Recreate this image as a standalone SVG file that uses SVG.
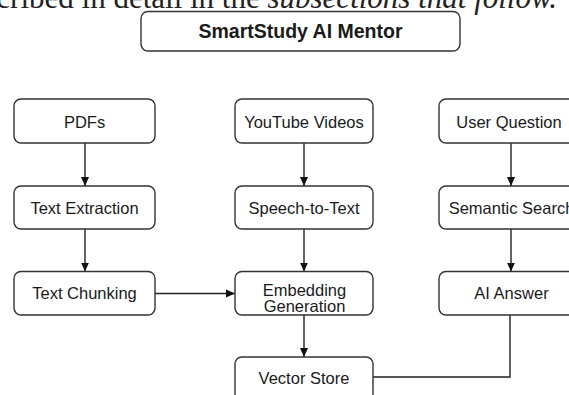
<svg xmlns="http://www.w3.org/2000/svg" width="569" height="395" viewBox="0 0 569 395">
<defs>
<style>
.box{fill:#fff;stroke:#333;stroke-width:1.4}
.lbl{font-family:"Liberation Sans",Arial,sans-serif;font-size:16.5px;fill:#1a1a1a;text-anchor:middle}
.title{font-family:"Liberation Sans",Arial,sans-serif;font-size:19.5px;font-weight:bold;fill:#1a1a1a;text-anchor:middle}
.edge{fill:none;stroke:#222;stroke-width:1.4}
.page{font-family:"Liberation Serif","Times New Roman",serif;font-size:31px;fill:#222}
</style>
<marker id="arr" viewBox="0 0 10 10" refX="10" refY="5" markerWidth="9" markerHeight="9" markerUnits="userSpaceOnUse" orient="auto">
<path d="M0,0.5 L10,5 L0,9.5 z" fill="#111"/>
</marker>
</defs>
<rect width="569" height="395" fill="#fff"/>
<text class="page" x="-45" y="7.5">described in detail in the <tspan font-style="italic">subsections that follow.</tspan></text>
<g id="title"><rect class="box" x="141" y="11.5" width="319" height="39.5" rx="7"/><text class="title" x="300.5" y="38">SmartStudy AI Mentor</text></g>
<g id="connectors">
<line class="edge" x1="85" y1="143" x2="85" y2="186" marker-end="url(#arr)"/>
<line class="edge" x1="85" y1="229" x2="85" y2="271.5" marker-end="url(#arr)"/>
<line class="edge" x1="304" y1="143" x2="304" y2="186" marker-end="url(#arr)"/>
<line class="edge" x1="304" y1="229" x2="304" y2="271.5" marker-end="url(#arr)"/>
<line class="edge" x1="511" y1="143" x2="511" y2="186" marker-end="url(#arr)"/>
<line class="edge" x1="511" y1="229" x2="511" y2="271.5" marker-end="url(#arr)"/>
<line class="edge" x1="155" y1="293.5" x2="235" y2="293.5" marker-end="url(#arr)"/>
<line class="edge" x1="304" y1="315" x2="304" y2="357" marker-end="url(#arr)"/>
<polyline class="edge" points="373,377 510,377 510,315"/>
</g>
<g id="pdfs"><rect class="box" x="14" y="99" width="141" height="44" rx="7"/><text class="lbl" x="84.5" y="127.5">PDFs</text></g>
<g id="text-extraction"><rect class="box" x="14" y="186" width="141" height="43" rx="7"/><text class="lbl" x="84.5" y="213.5">Text Extraction</text></g>
<g id="text-chunking"><rect class="box" x="14" y="271.5" width="141" height="43.5" rx="7"/><text class="lbl" x="84.5" y="299">Text Chunking</text></g>
<g id="youtube"><rect class="box" x="235" y="99" width="138" height="44" rx="7"/><text class="lbl" x="304" y="127.5">YouTube Videos</text></g>
<g id="speech-to-text"><rect class="box" x="235" y="186" width="138" height="43" rx="7"/><text class="lbl" x="304" y="213.5">Speech-to-Text</text></g>
<g id="embedding"><rect class="box" x="235" y="271.5" width="138" height="43.5" rx="7"/><text class="lbl" x="304.5" y="295.5">Embedding</text><text class="lbl" x="304.5" y="312">Generation</text></g>
<g id="vector-store"><rect class="box" x="235" y="357" width="138" height="46" rx="7"/><text class="lbl" x="304" y="384">Vector Store</text></g>
<g id="user-question"><rect class="box" x="439" y="99" width="145" height="44" rx="7"/><text class="lbl" x="509" y="127.5">User Question</text></g>
<g id="semantic-search"><rect class="box" x="439" y="186" width="145" height="43" rx="7"/><text class="lbl" x="511.5" y="213.5">Semantic Search</text></g>
<g id="ai-answer"><rect class="box" x="439" y="271.5" width="145" height="43.5" rx="7"/><text class="lbl" x="511.5" y="299">AI Answer</text></g>
</svg>
